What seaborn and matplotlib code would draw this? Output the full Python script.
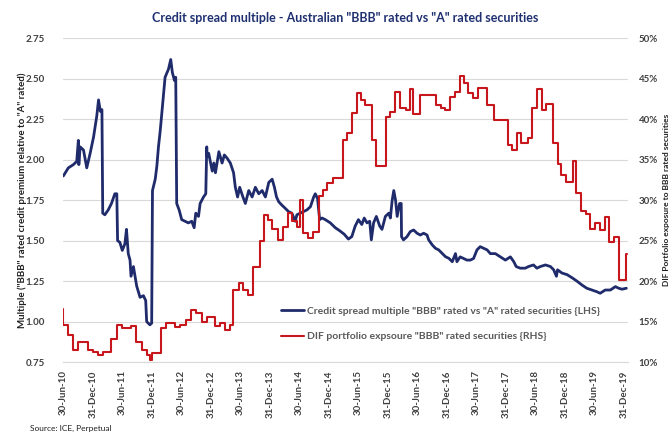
import matplotlib
matplotlib.use("Agg")
import matplotlib.pyplot as plt
import matplotlib.dates as mdates
from matplotlib.ticker import FuncFormatter, MultipleLocator
import pandas as pd
import seaborn as sns

TITLE = 'Credit spread multiple - Australian "BBB" rated vs "A" rated securities'
LEFT_LABEL = 'Multiple ("BBB" rated credit premium relative to "A" rated)'
RIGHT_LABEL = "DIF Portfolio exposure to BBB rated securities"
SPREAD_NAME = 'Credit spread multiple "BBB" rated vs "A" rated securities {LHS}'
EXPOSURE_NAME = 'DIF portfolio expsoure "BBB" rated securities {RHS}'
SOURCE = "Source: ICE, Perpetual"

# credit spread multiple (LHS)
spread_dates = [
    "2010-07-01", "2010-08-01", "2010-09-01", "2010-09-22", "2010-10-02", "2010-10-05",
    "2010-10-13", "2010-11-03", "2010-11-23", "2010-12-14", "2011-01-04", "2011-01-24",
    "2011-02-04", "2011-02-15", "2011-02-25", "2011-03-02", "2011-03-15", "2011-04-05",
    "2011-04-25", "2011-05-16", "2011-05-28", "2011-06-02", "2011-06-16", "2011-07-01",
    "2011-07-17", "2011-07-27", "2011-08-07", "2011-08-18", "2011-08-24", "2011-09-08",
    "2011-09-28", "2011-10-19", "2011-11-09", "2011-11-23", "2011-11-29", "2011-12-19",
    "2011-12-30", "2012-01-04", "2012-01-21", "2012-01-31", "2012-02-10", "2012-02-21",
    "2012-03-11", "2012-03-22", "2012-04-12", "2012-04-26", "2012-05-06", "2012-05-19",
    "2012-05-27", "2012-06-02", "2012-06-17", "2012-07-03", "2012-07-24", "2012-08-13",
    "2012-09-03", "2012-09-18", "2012-09-28", "2012-10-15", "2012-10-25", "2012-11-15",
    "2012-11-29", "2012-12-05", "2012-12-07", "2012-12-17", "2013-01-08", "2013-01-18",
    "2013-01-28", "2013-02-18", "2013-03-10", "2013-03-24", "2013-04-10", "2013-04-30",
    "2013-05-20", "2013-05-31", "2013-06-14", "2013-06-27", "2013-07-17", "2013-08-01",
    "2013-08-22", "2013-09-12", "2013-10-02", "2013-10-23", "2013-11-13", "2013-12-03",
    "2013-12-24", "2014-01-14", "2014-01-28", "2014-02-10", "2014-02-24", "2014-03-15",
    "2014-04-05", "2014-04-25", "2014-05-16", "2014-06-06", "2014-06-16", "2014-07-07",
    "2014-07-27", "2014-08-17", "2014-09-08", "2014-09-28", "2014-10-08", "2014-10-22",
    "2014-11-04", "2014-11-19", "2014-12-09", "2015-01-09", "2015-02-09", "2015-03-10",
    "2015-04-05", "2015-05-01", "2015-05-22", "2015-06-12", "2015-07-02", "2015-07-23",
    "2015-08-07", "2015-08-24", "2015-09-10", "2015-09-20", "2015-10-04", "2015-10-21",
    "2015-11-11", "2015-11-25", "2015-12-16", "2016-01-06", "2016-01-16", "2016-01-27",
    "2016-02-06", "2016-02-17", "2016-02-27", "2016-03-13", "2016-03-23", "2016-03-25",
    "2016-04-06", "2016-04-28", "2016-05-18", "2016-06-08", "2016-06-29", "2016-07-19",
    "2016-08-09", "2016-08-30", "2016-09-09", "2016-10-01", "2016-10-21", "2016-11-10",
    "2016-12-01", "2016-12-22", "2017-01-12", "2017-02-02", "2017-02-22", "2017-03-03",
    "2017-03-23", "2017-04-13", "2017-05-04", "2017-05-25", "2017-06-14", "2017-07-05",
    "2017-07-25", "2017-08-15", "2017-09-06", "2017-09-26", "2017-10-27", "2017-11-27",
    "2017-12-28", "2018-01-28", "2018-02-18", "2018-03-05", "2018-03-30", "2018-04-30",
    "2018-05-20", "2018-06-20", "2018-07-11", "2018-08-01", "2018-09-02", "2018-10-03",
    "2018-10-23", "2018-11-09", "2018-11-16", "2018-12-13", "2019-01-14", "2019-02-15",
    "2019-03-16", "2019-04-16", "2019-05-16", "2019-06-16", "2019-07-16", "2019-08-07",
    "2019-09-07", "2019-10-09", "2019-11-09", "2019-11-30", "2019-12-20", "2020-01-16",
]
spread_values = [
    1.90, 1.95, 1.97, 1.99, 2.12, 1.97,
    2.08, 2.06, 1.95, 2.04, 2.14, 2.27,
    2.37, 2.30, 2.31, 1.67, 1.66, 1.69,
    1.73, 1.79, 1.79, 1.50, 1.49, 1.44,
    1.48, 1.57, 1.42, 1.38, 1.28, 1.34,
    1.22, 1.15, 1.16, 1.13, 1.00, 0.98,
    0.99, 1.81, 1.88, 1.96, 2.08, 2.18,
    2.39, 2.51, 2.56, 2.62, 2.54, 2.49,
    2.51, 1.73, 1.69, 1.63, 1.62, 1.61,
    1.62, 1.58, 1.67, 1.65, 1.73, 1.77,
    1.79, 2.08, 2.02, 2.04, 1.93, 1.98,
    1.92, 2.05, 1.98, 2.03, 2.01, 1.98,
    1.92, 1.83, 1.77, 1.83, 1.77, 1.73,
    1.81, 1.77, 1.83, 1.79, 1.81, 1.77,
    1.86, 1.88, 1.83, 1.77, 1.74, 1.72,
    1.70, 1.68, 1.67, 1.62, 1.66, 1.67,
    1.68, 1.69, 1.71, 1.77, 1.79, 1.76,
    1.63, 1.64, 1.63, 1.61, 1.58, 1.56,
    1.54, 1.51, 1.525, 1.59, 1.63, 1.60,
    1.64, 1.61, 1.62, 1.505, 1.61, 1.65,
    1.59, 1.57, 1.65, 1.67, 1.64, 1.75,
    1.81, 1.75, 1.65, 1.73, 1.73, 1.525,
    1.505, 1.525, 1.556, 1.566, 1.546, 1.535,
    1.546, 1.535, 1.505, 1.474, 1.453, 1.443,
    1.422, 1.401, 1.391, 1.37, 1.42, 1.37,
    1.40, 1.39, 1.38, 1.38, 1.39, 1.443,
    1.463, 1.453, 1.443, 1.42, 1.42, 1.40,
    1.38, 1.40, 1.37, 1.34, 1.33, 1.33,
    1.34, 1.35, 1.33, 1.34, 1.35, 1.34,
    1.32, 1.28, 1.32, 1.30, 1.29, 1.27,
    1.25, 1.226, 1.206, 1.195, 1.185, 1.175,
    1.195, 1.195, 1.216, 1.206, 1.20, 1.206,
]

# DIF portfolio exposure (RHS, %), value from each date until the next one
exposure_dates = [
    "2010-06-30", "2010-07-01", "2010-08-01", "2010-09-01", "2010-10-01", "2010-12-01",
    "2011-01-01", "2011-02-01", "2011-03-01", "2011-04-25", "2011-06-01", "2011-07-01",
    "2011-08-25", "2011-09-26", "2011-10-28", "2011-11-28", "2011-12-19", "2012-01-04",
    "2012-02-28", "2012-03-30", "2012-05-25", "2012-06-25", "2012-08-01", "2012-09-01",
    "2012-10-02", "2012-11-03", "2012-12-04", "2013-01-28", "2013-02-28", "2013-03-30",
    "2013-04-30", "2013-05-19", "2013-06-25", "2013-07-19", "2013-08-19", "2013-09-20",
    "2013-10-28", "2013-11-22", "2013-12-22", "2014-01-16", "2014-02-22", "2014-03-24",
    "2014-04-24", "2014-05-19", "2014-06-19", "2014-07-07", "2014-07-25", "2014-08-25",
    "2014-09-26", "2014-10-28", "2014-11-22", "2014-12-22", "2015-01-28", "2015-03-30",
    "2015-04-25", "2015-05-25", "2015-06-25", "2015-07-19", "2015-08-13", "2015-09-26",
    "2015-10-22", "2015-12-22", "2016-01-16", "2016-02-16", "2016-03-18", "2016-04-19",
    "2016-05-19", "2016-06-07", "2016-07-19", "2016-10-22", "2016-11-22", "2016-12-22",
    "2017-01-22", "2017-02-22", "2017-03-23", "2017-04-13", "2017-05-13", "2017-06-13",
    "2017-07-13", "2017-09-07", "2017-10-16", "2018-01-16", "2018-02-10", "2018-03-12",
    "2018-04-06", "2018-05-19", "2018-06-13", "2018-07-13", "2018-08-13", "2018-09-07",
    "2018-10-16", "2018-11-16", "2018-12-10", "2019-01-10", "2019-02-22", "2019-03-10",
    "2019-04-13", "2019-05-13", "2019-06-07", "2019-07-07", "2019-08-07", "2019-09-08",
    "2019-10-03", "2019-11-03", "2019-12-03", "2020-01-16", "2020-01-20",
]
exposure_values = [
    16.6, 14.6, 13.3, 11.5, 12.5, 11.5,
    11.3, 10.9, 11.3, 12.9, 14.6, 14.2,
    14.4, 12.5, 11.5, 10.9, 10.3, 11.1,
    14.2, 14.8, 14.3, 14.6, 15.2, 16.4,
    16.0, 15.0, 15.6, 14.4, 14.8, 14.0,
    14.6, 18.9, 19.8, 18.9, 18.3, 21.8,
    24.9, 28.2, 27.6, 26.5, 25.1, 26.7,
    28.4, 27.4, 26.7, 30.0, 25.9, 25.3,
    26.1, 30.5, 31.3, 32.1, 32.7, 37.5,
    38.3, 40.8, 43.3, 42.4, 41.8, 37.5,
    34.2, 40.3, 40.9, 43.4, 41.4, 41.2,
    43.7, 40.6, 43.0, 41.8, 41.4, 41.2,
    42.8, 43.4, 45.3, 44.5, 43.2, 42.6,
    43.9, 41.8, 39.9, 36.8, 36.2, 38.3,
    37.1, 37.7, 41.4, 43.7, 41.1, 41.9,
    37.1, 34.5, 33.1, 32.2, 34.9, 30.9,
    28.7, 28.3, 26.5, 27.2, 26.3, 27.9,
    24.8, 25.5, 20.1, 23.4, 23.4,
]

tick_dates = [
    "2010-06-30", "2010-12-31", "2011-06-30", "2011-12-31", "2012-06-30",
    "2012-12-31", "2013-06-30", "2013-12-31", "2014-06-30", "2014-12-31",
    "2015-06-30", "2015-12-31", "2016-06-30", "2016-12-31", "2017-06-30",
    "2017-12-31", "2018-06-30", "2018-12-31", "2019-06-30", "2019-12-31",
]

NAVY = "#1f2b6b"
RED = "#c8161d"
TEXT = "#404040"
GRID = "#d9d9d9"


def main() -> None:
    sns.set_style("white")
    plt.rcParams["font.family"] = ["Lato", "DejaVu Sans"]

    spread = pd.DataFrame({"date": pd.to_datetime(spread_dates), "value": spread_values})
    exposure = pd.DataFrame({"date": pd.to_datetime(exposure_dates), "value": exposure_values})

    fig = plt.figure(figsize=(6.72, 4.32), dpi=100)
    ax = fig.add_axes([0.094, 0.162, 0.840, 0.749])
    ax2 = ax.twinx()

    sns.lineplot(data=spread, x="date", y="value", ax=ax, color=NAVY, linewidth=2.0,
                 label=SPREAD_NAME, legend=False)
    sns.lineplot(data=exposure, x="date", y="value", ax=ax2, color=RED, linewidth=1.5,
                 drawstyle="steps-post", label=EXPOSURE_NAME, legend=False)

    ax.set_xlim(pd.Timestamp("2010-06-30"), pd.Timestamp("2020-01-24"))
    ax.set_ylim(0.75, 2.75)
    ax2.set_ylim(10, 50)
    ax.yaxis.set_major_locator(MultipleLocator(0.25))
    ax2.yaxis.set_major_locator(MultipleLocator(5))
    ax.yaxis.set_major_formatter(FuncFormatter(lambda v, _: f"{v:.2f}"))
    ax2.yaxis.set_major_formatter(FuncFormatter(lambda v, _: f"{v:.0f}%"))

    ticks = pd.to_datetime(tick_dates)
    ax.set_xticks(ticks)
    ax.xaxis.set_major_formatter(mdates.DateFormatter("%d-%b-%y"))
    for lbl in ax.get_xticklabels():
        lbl.set_rotation(90)

    ax.grid(axis="y", color=GRID, linewidth=0.8)
    ax.set_axisbelow(True)
    for a in (ax, ax2):
        for side in ("top", "left", "right"):
            a.spines[side].set_visible(False)
        a.spines["bottom"].set_color(GRID)
    ax2.spines["bottom"].set_visible(False)

    ax.tick_params(axis="x", length=4, color=GRID, pad=2, labelsize=7, labelcolor=TEXT)
    ax.tick_params(axis="y", length=0, pad=13, labelsize=7, labelcolor=TEXT)
    ax2.tick_params(axis="y", length=0, pad=8, labelsize=7, labelcolor=TEXT)
    for lbl in ax.get_xticklabels() + ax.get_yticklabels() + ax2.get_yticklabels():
        lbl.set_fontweight("bold")

    ax.set_xlabel("")
    ax.set_ylabel(LEFT_LABEL, fontsize=7, fontweight="bold", color="#202020",
                  va="center", ha="center")
    ax.yaxis.set_label_coords(-0.072, 0.5)
    ax2.set_ylabel(RIGHT_LABEL, fontsize=6, fontweight="bold", color="#202020",
                   rotation=90, va="center", ha="center")
    ax2.yaxis.set_label_coords(1.0695, 0.5)
    ax.set_title(TITLE, fontsize=9, fontweight="bold", color="#1f3070", pad=12)

    handles = ax.get_lines()[:1] + ax2.get_lines()[:1]
    ax2.legend(handles, [SPREAD_NAME, EXPOSURE_NAME], loc="lower left",
               bbox_to_anchor=(0.37, 0.035), frameon=False,
               handlelength=2.2, handletextpad=0.3, labelspacing=1.55,
               labelcolor="#595959", prop={"weight": "bold", "size": 7.5})

    fig.text(0.045, 0.003, SOURCE, fontsize=6, color="#202020")
    fig.savefig("out.png", dpi=100)


if __name__ == "__main__":
    main()
